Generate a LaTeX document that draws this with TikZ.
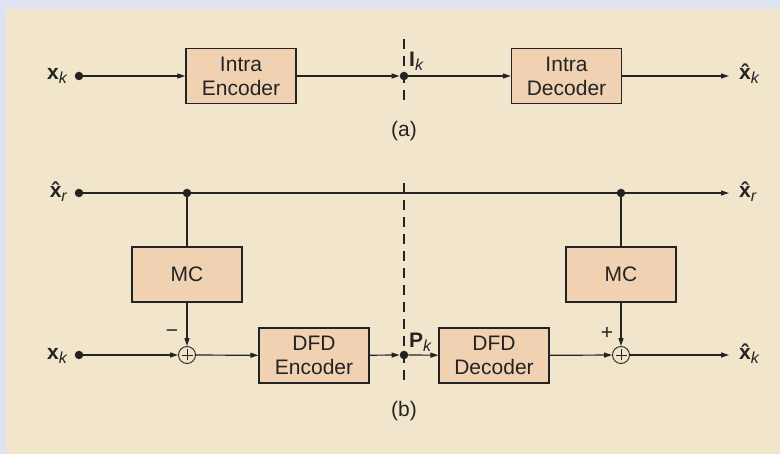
\documentclass[tikz,border=0pt]{standalone}
\usepackage{fontspec}
\setmainfont{Liberation Sans}
\usetikzlibrary{arrows.meta}
\definecolor{bgblue}{RGB}{221,227,241}
\definecolor{bgbeige}{RGB}{241,229,204}
\definecolor{boxfill}{RGB}{240,210,178}
\definecolor{ink}{RGB}{35,35,35}
\newsavebox\myxbox
\newcommand{\sigl}[2]{\textbf{#1}\raisebox{-0.3ex}{\fontsize{16}{16}\selectfont\itshape #2}}
\newcommand{\hatx}{\sbox\myxbox{\textbf{x}}\usebox\myxbox\llap{\makebox[\wd\myxbox][c]{\textbf{\char"02C6}}}}
\begin{document}
\begin{tikzpicture}[x=1pt,y=-1pt,
  ink line/.style={draw=ink, line width=1.2pt},
  blk/.style={draw=ink, fill=boxfill, line width=1.3pt, minimum width=110pt,
    minimum height=55pt, inner sep=0pt, align=center, text=ink,
    font=\fontsize{21}{24}\selectfont},
  dotn/.style={circle, fill=ink, inner sep=0pt, minimum size=8.5pt},
  sumn/.style={circle, draw=ink, fill=bgbeige, line width=0.9pt, minimum size=17pt,
    inner sep=0pt,
    path picture={\draw[ink, line width=0.9pt]
      (path picture bounding box.center) ++(-5.5pt,0pt) -- ++(11pt,0pt)
      (path picture bounding box.center) ++(0pt,-5.5pt) -- ++(0pt,11pt);}},
  arr/.style={ink line, -{Triangle[length=8pt,width=5pt]}},
  lbl/.style={font=\fontsize{21}{24}\selectfont, inner sep=0pt, text=ink},
  dashln/.style={draw=ink, line width=1.3pt, dash pattern=on 10pt off 7pt}]
\fill[bgblue] (0,0) rectangle (780,454);
\fill[bgbeige] (6,9) rectangle (780,454);
\useasboundingbox (0,0) rectangle (780,454);

% dashed separation line
\coordinate (dA1) at (404,39);
\coordinate (dA2) at (404,106);
\coordinate (dB1) at (404,183);
\coordinate (dB2) at (404,386);
\draw[dashln] (dA1) -- (dA2);
\draw[dashln] (dB1) -- (dB2);

% ---------- (a) ----------
\node[blk] (encA) at (241,76) {Intra\\Encoder};
\node[blk] (decA) at (566.5,76) {Intra\\Decoder};
\node[dotn] (xa) at (79,76) {};
\node[dotn] (ia) at (404,76) {};
\coordinate (oa) at (729,76);
\node[lbl, anchor=base east] (lxa) at (67,80) {\sigl{x}{k}};
\node[lbl, anchor=base west] (lia) at (409,67) {\sigl{I}{k}};
\node[lbl, anchor=base west] (loa) at (739,80) {\sigl{\hatx}{k}};
\node[lbl] (capa) at (404,131) {(a)};
\draw[arr] (xa) -- (encA);
\draw[arr] (encA) -- (ia);
\draw[arr] (ia) -- (decA);
\draw[arr] (decA) -- (oa);

% ---------- (b) ----------
\node[blk] (mcL) at (187,274.5) {MC};
\node[blk] (mcR) at (621,274.5) {MC};
\node[blk] (encB) at (314,355.5) {DFD\\Encoder};
\node[blk] (decB) at (494,355.5) {DFD\\Decoder};
\node[dotn] (xr) at (79,193) {};
\node[dotn] (jL) at (187,193) {};
\node[dotn] (jR) at (621,193) {};
\coordinate (or) at (729,193);
\node[dotn] (xb) at (79,355) {};
\node[sumn] (sumL) at (187,355) {};
\node[dotn] (pb) at (404,355) {};
\node[sumn] (sumR) at (621,355) {};
\coordinate (ob) at (729,355);

\node[lbl, anchor=base east] (lxr) at (67,198) {\sigl{\hatx}{r}};
\node[lbl, anchor=base west] (lor) at (739,198) {\sigl{\hatx}{r}};
\node[lbl, anchor=base east] (lxb) at (67,360) {\sigl{x}{k}};
\node[lbl, anchor=base west] (lob) at (739,360) {\sigl{\hatx}{k}};
\node[lbl, anchor=base west] (lpb) at (409,348) {\sigl{P}{k}};
\node[lbl] (minus) at (172,334) {\char"2212};
\node[lbl] (plus) at (607,333) {+};
\node[lbl] (capb) at (404,411) {(b)};

\draw[ink line] (xr) -- (jL) -- (jR);
\draw[arr] (jR) -- (or);
\draw[ink line] (jL) -- (mcL);
\draw[ink line] (jR) -- (mcR);
\draw[arr] (mcL) -- (sumL);
\draw[arr] (mcR) -- (sumR);
\draw[arr] (xb) -- (sumL);
\draw[arr] (sumL) -- (encB);
\draw[arr] (encB) -- (pb);
\draw[arr] (pb) -- (decB);
\draw[arr] (decB) -- (sumR);
\draw[arr] (sumR) -- (ob);
\end{tikzpicture}
\end{document}
